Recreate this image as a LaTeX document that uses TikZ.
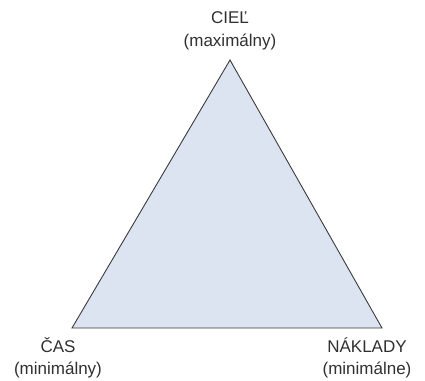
\documentclass[tikz,border=0pt]{standalone}
\usepackage{fontspec}
\setmainfont{Liberation Sans}
\definecolor{fillblue}{HTML}{DCE4F2}
\definecolor{edgegray}{HTML}{3A3A3A}
\definecolor{textgray}{HTML}{303030}
\begin{document}
\begin{tikzpicture}[x=1pt,y=-1pt,
  label/.style={align=center,text=textgray,font=\fontsize{17}{22.5}\selectfont,inner sep=0pt}]
\useasboundingbox (0,0) rectangle (425,380);
\coordinate (top) at (230,60);
\coordinate (left) at (72,328);
\coordinate (right) at (382,328);
\filldraw[fill=fillblue,draw=edgegray,line width=0.9pt,line join=miter] (top) -- (left) -- (right) -- cycle;
\node[label] (goal) at (230,31) {CIEĽ\\(maximálny)};
\node[label] (time) at (58,358) {ČAS\\(minimálny)};
\node[label] (cost) at (367,358) {NÁKLADY\\(minimálne)};
\end{tikzpicture}
\end{document}
